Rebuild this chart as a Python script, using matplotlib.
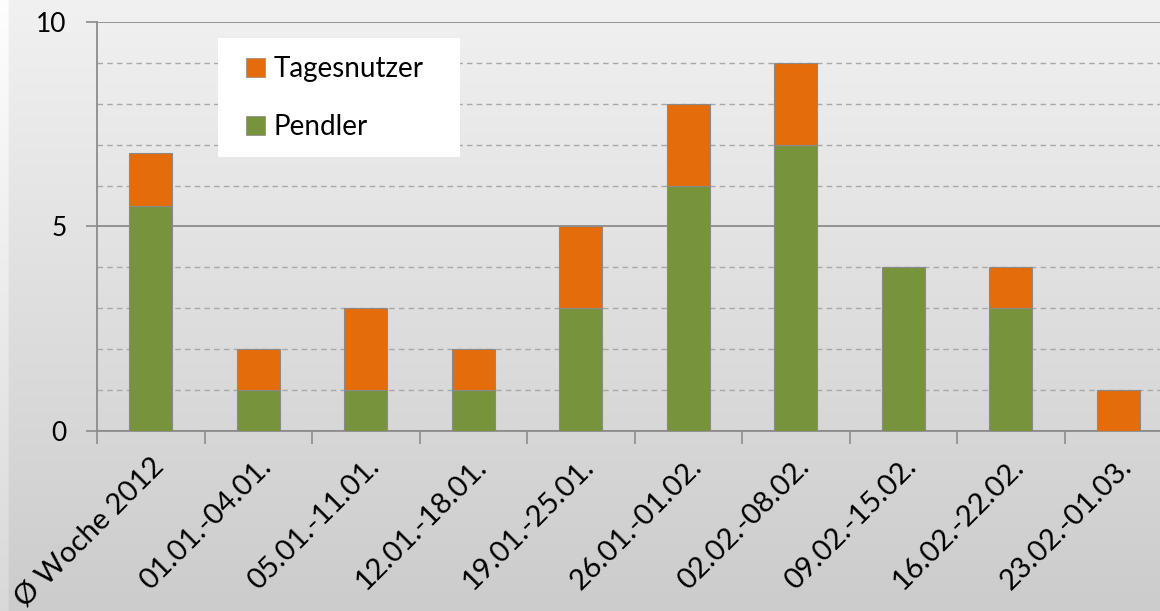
import matplotlib
matplotlib.use("Agg")
import matplotlib.pyplot as plt
import numpy as np
from matplotlib.patches import Patch, Rectangle

categories = ["Ø Woche 2012", "01.01.-04.01.", "05.01.-11.01.", "12.01.-18.01.",
              "19.01.-25.01.", "26.01.-01.02.", "02.02.-08.02.", "09.02.-15.02.",
              "16.02.-22.02.", "23.02.-01.03."]
pendler = [5.5, 1, 1, 1, 3, 6, 7, 4, 3, 0]
tagesnutzer = [1.3, 1, 2, 1, 2, 2, 2, 0, 1, 1]

green = "#77933C"
orange = "#E46C0A"

plt.rcParams['font.family'] = ['Lato', 'DejaVu Sans']

W, H = 1160, 611
fig = plt.figure(figsize=(W/100, H/100), dpi=100)

# gradient background
bg = fig.add_axes([0, 0, 1, 1], zorder=-10)
grad = np.linspace(0.945, 0.80, 256).reshape(-1, 1)
img = np.dstack([grad, grad, grad]) * np.ones((1, 400, 1))
img[:, :3, :] = np.clip(img[:, :3, :] + 0.05, 0, 1)
bg.imshow(img, aspect='auto', extent=[0, 1, 0, 1], origin='upper')
bg.axis('off')

left, right, top, bottom = 97, 1172, 22, 431
ax = fig.add_axes([left/W, (H-bottom)/H, (right-left)/W, (bottom-top)/H])
ax.patch.set_alpha(0)

x = np.arange(len(categories))
bw = 0.4
ax.bar(x, pendler, bw, color=green, edgecolor="#8a8a8a", linewidth=0.8, zorder=3, label="Pendler")
ax.bar(x, tagesnutzer, bw, bottom=pendler, color=orange, edgecolor="#8a8a8a", linewidth=0.8, zorder=3, label="Tagesnutzer")

ax.set_xlim(-0.5, len(categories) - 0.5)
ax.set_ylim(0, 10)
ax.set_yticks([0, 5, 10])
ax.set_yticks([1, 2, 3, 4, 6, 7, 8, 9], minor=True)
ax.grid(axis='y', which='major', color='#8c8c8c', linewidth=1.3, linestyle='-', zorder=1)
ax.grid(axis='y', which='minor', color='#a8a8a8', linewidth=1.0, linestyle=(0, (4, 3)), zorder=1)
ax.tick_params(axis='y', which='minor', length=0)
ax.tick_params(axis='y', which='major', length=8, width=1.2, color='#8c8c8c', labelsize=19, pad=14)

ax.set_xticks(x)
ax.set_xticklabels(categories, rotation=45, ha='right', rotation_mode='anchor', fontsize=21)
ax.tick_params(axis='x', which='major', length=0, pad=16)
ax.set_xticks(np.arange(-0.5, len(categories), 1), minor=True)
ax.tick_params(axis='x', which='minor', length=9, width=1.2, color='#8c8c8c', direction='out')

for s in ['top', 'right']:
    ax.spines[s].set_visible(False)
for s in ['left', 'bottom']:
    ax.spines[s].set_color('#8c8c8c')
    ax.spines[s].set_linewidth(1.3)

# legend background box
fig.patches.append(Rectangle((218/W, 1 - 157/H), (460-218)/W, (157-38)/H,
                             transform=fig.transFigure, facecolor='white',
                             edgecolor='none', zorder=4))

handles = [Patch(facecolor=orange, edgecolor='#8a8a8a', linewidth=0.5, label='Tagesnutzer'),
           Patch(facecolor=green, edgecolor='#8a8a8a', linewidth=0.5, label='Pendler')]
leg = fig.legend(handles=handles, loc='upper left', bbox_to_anchor=(246/W, 1 - 56/H),
                 fontsize=20, frameon=False, handlelength=0.68, handleheight=0.68,
                 handletextpad=0.32, labelspacing=1.15, borderpad=0, borderaxespad=0)
leg.set_zorder(5)

fig.savefig("out.png", dpi=100)
